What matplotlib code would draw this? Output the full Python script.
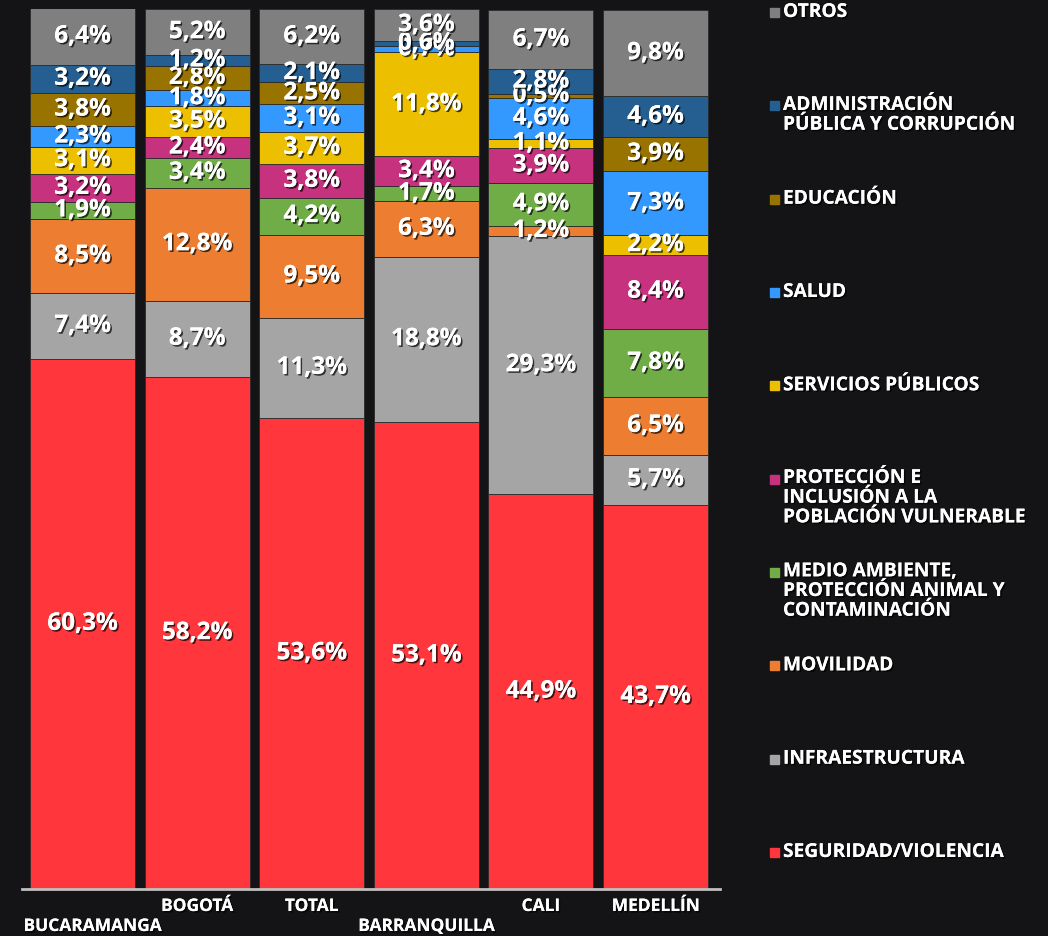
import numpy as np
import matplotlib
matplotlib.use("Agg")
import matplotlib.pyplot as plt
import matplotlib.patheffects as pe
from matplotlib.patches import Rectangle

ciudades = ["BUCARAMANGA", "BOGOTÁ", "TOTAL", "BARRANQUILLA", "CALI", "MEDELLÍN"]

# stacking order: bottom -> top
seguridad   = [60.3, 58.2, 53.6, 53.1, 44.9, 43.7]
infra       = [7.4, 8.7, 11.3, 18.8, 29.3, 5.7]
movilidad   = [8.5, 12.8, 9.5, 6.3, 1.2, 6.5]
ambiente    = [1.9, 3.4, 4.2, 1.7, 4.9, 7.8]
proteccion  = [3.2, 2.4, 3.8, 3.4, 3.9, 8.4]
servicios   = [3.1, 3.5, 3.7, 11.8, 1.1, 2.2]
salud       = [2.3, 1.8, 3.1, 0.7, 4.6, 7.3]
educacion   = [3.8, 2.8, 2.5, 0.0, 0.5, 3.9]
admin       = [3.2, 1.2, 2.1, 0.6, 2.8, 4.6]
otros       = [6.4, 5.2, 6.2, 3.6, 6.7, 9.8]

series = [
    ("SEGURIDAD/VIOLENCIA", seguridad, "#ff373c"),
    ("INFRAESTRUCTURA", infra, "#a5a5a5"),
    ("MOVILIDAD", movilidad, "#ed7d31"),
    ("MEDIO AMBIENTE,\nPROTECCIÓN ANIMAL Y\nCONTAMINACIÓN", ambiente, "#70ad47"),
    ("PROTECCIÓN E\nINCLUSIÓN A LA\nPOBLACIÓN VULNERABLE", proteccion, "#c7327f"),
    ("SERVICIOS PÚBLICOS", servicios, "#ecc000"),
    ("SALUD", salud, "#3399ff"),
    ("EDUCACIÓN", educacion, "#997300"),
    ("ADMINISTRACIÓN\nPÚBLICA Y CORRUPCIÓN", admin, "#255e91"),
    ("OTROS", otros, "#7f7f7f"),
]

BG = "#141416"
FONT = "Open Sans"
shadow = [pe.withSimplePatchShadow(offset=(1.2, -1.2), shadow_rgbFace="black", alpha=0.7), pe.Normal()]

fig = plt.figure(figsize=(10.48, 9.37), dpi=100, facecolor=BG)
ax = fig.add_axes([0.021, 0.050, 0.666, 0.939], facecolor=BG)

x = np.arange(len(ciudades))
bottom = np.zeros(len(ciudades))
for name, vals, col in series:
    v = np.array(vals)
    ax.bar(x, v, 0.916, bottom=bottom, color=col, edgecolor="#2a2a2a", linewidth=0.6)
    for xi, b, val in zip(x, bottom, v):
        if val > 0:
            ax.text(xi, b + val / 2, f"{val:.1f}%".replace(".", ","), ha="center", va="center",
                    color="white", fontsize=17.5, fontweight="bold", family=FONT, path_effects=shadow)
    bottom += v

ax.set_xlim(-0.528, 5.563)
ax.set_ylim(0, 100)
for s in ["top", "right", "left"]:
    ax.spines[s].set_visible(False)
ax.spines["bottom"].set_color("#bfbfbf")
ax.spines["bottom"].set_linewidth(2)
ax.set_yticks([])
ax.set_xticks([])

# staggered category labels
for xi, lab in zip(x, ciudades):
    low = lab in ("BUCARAMANGA", "BARRANQUILLA")
    xc = ax.transData.transform((xi, 0))[0] / fig.bbox.width
    if lab == "BUCARAMANGA":
        xc += 10 / 1048
    fig.text(xc, (937 - (927 if low else 907)) / 937,
             lab, ha="center", va="center", color="white", fontsize=12.5, fontweight="bold",
             family=FONT, path_effects=shadow)

# legend on the right, top to bottom
ys = np.linspace(13, 853, len(series))
LINE = 19.0
for (name, vals, col), yp in zip(series[::-1], ys):
    nlines = name.count("\n") + 1
    yc = yp + (nlines - 1) * LINE / 2
    fig.patches.append(Rectangle((770 / 1048, (937 - yp - 5) / 937), 9 / 1048, 9 / 937,
                                 transform=fig.transFigure, color=col))
    fig.text(783 / 1048, (937 - yc) / 937, name, ha="left", va="center", color="white",
             fontsize=13.8, fontweight="bold", family=FONT, linespacing=0.98, path_effects=shadow)

fig.savefig("out.png", dpi=100, facecolor=BG)
